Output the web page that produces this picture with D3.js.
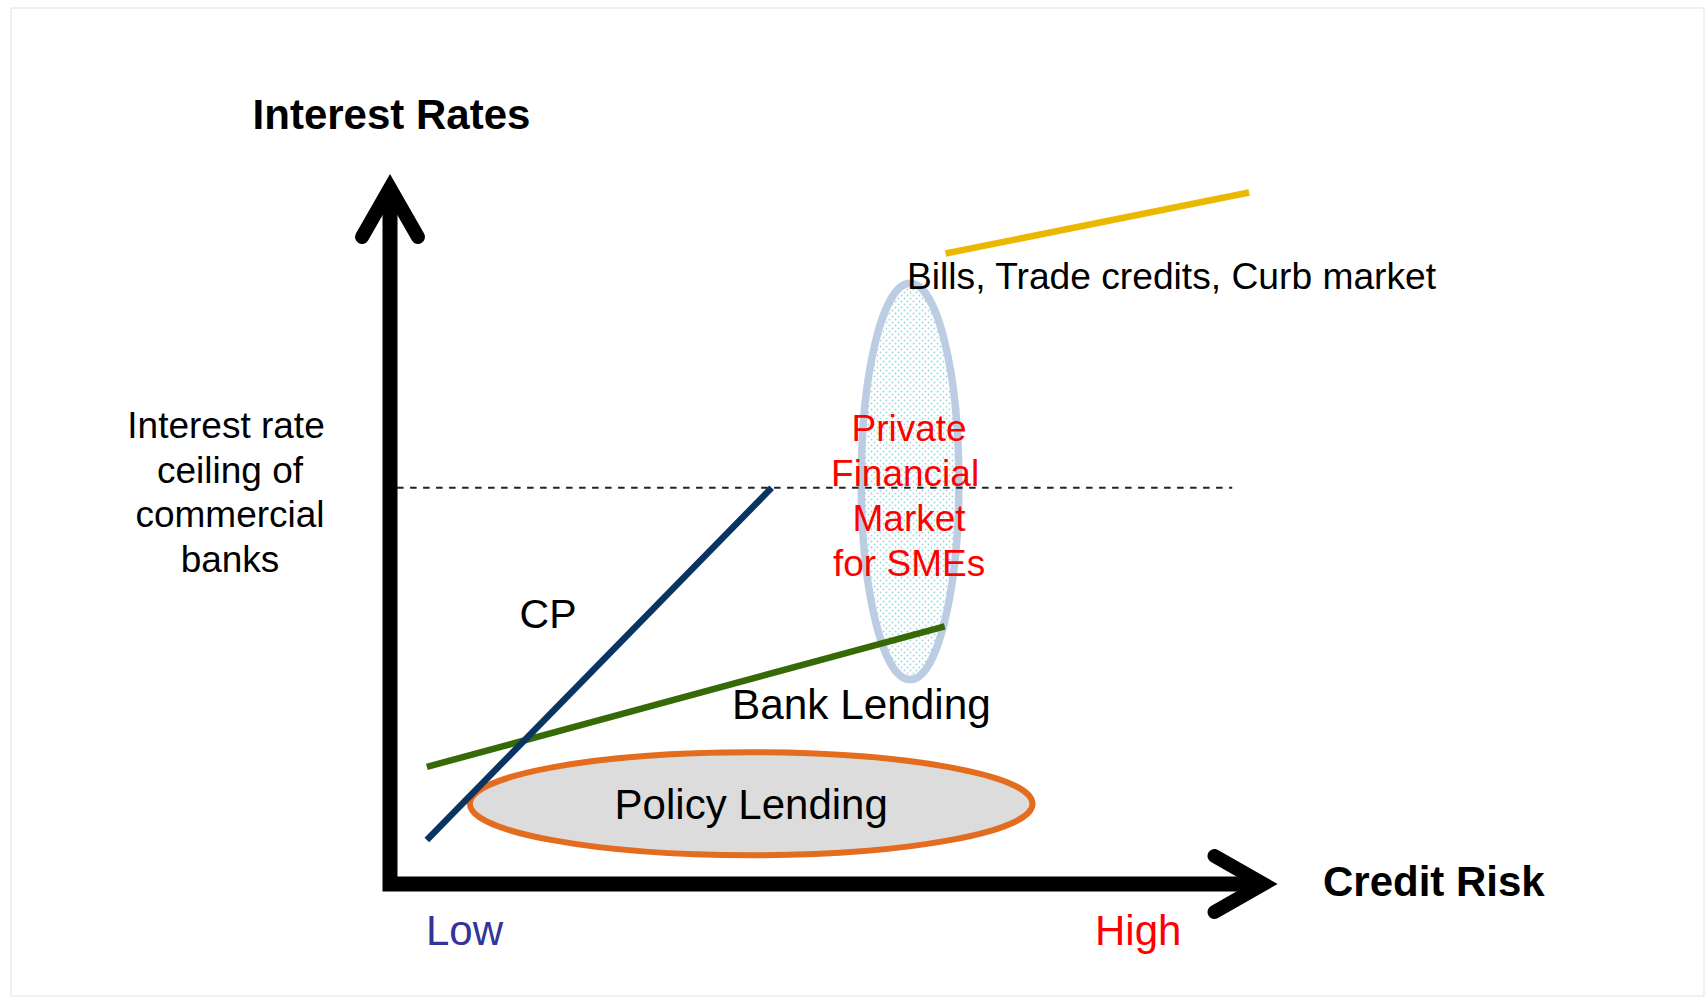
<!DOCTYPE html>
<html>
<head>
<meta charset="utf-8">
<script src="https://cdn.jsdelivr.net/npm/d3@7"></script>
<style>
  body { margin: 0; background: #fff; }
  svg { display: block; }
  text { font-family: "Liberation Sans", Arial, sans-serif; }
</style>
</head>
<body>
<svg></svg>
<script>
var screen = {width: 1706, height: 998};

// conceptual units: credit risk (x) and interest rate (y), 0..100
var axisTitles = ["Interest Rates", "Credit Risk"];
var riskLabels = ["Low", "High"];
var ceilingLabel = ["Interest rate", "ceiling of", "commercial", "banks"];
var privateLabel = ["Private", "Financial", "Market", "for SMEs"];

// line segments [risk, rate]
var cpLine = [[4.15, 6.2], [43.0, 55.8]];
var bankLine = [[4.15, 16.5], [62.5, 36.3]];
var billsLine = [[62.6, 88.8], [96.8, 97.4]];
var ceilingRate = 55.8;
var ceilingRange = [0.8, 94.9];

// ellipses: centre risk, centre rate, half width (risk), half height (rate)
var policyEllipse = {name: "Policy Lending", cx: 40.7, cy: 11.3, rx: 31.7, ry: 7.25};
var privateEllipse = {name: "Private Financial Market", cx: 58.6, cy: 56.7, rx: 5.5, ry: 27.9};

var lineNames = ["CP", "Bank Lending", "Bills, Trade credits, Curb market"];

var svg = d3.select("svg")
    .attr("width", screen.width)
    .attr("height", screen.height)

var xScale = d3.scaleLinear().domain([0, 100]).range([390, 1277.5])
var yScale = d3.scaleLinear().domain([0, 100]).range([884, 174])

var defs = svg.append("defs")
var pat = defs.append("pattern")
    .attr("id", "dots")
    .attr("patternUnits", "userSpaceOnUse")
    .attr("width", 6).attr("height", 6)
pat.append("rect").attr("width", 6).attr("height", 6).attr("fill", "#ffffff")
pat.append("circle").attr("cx", 1.5).attr("cy", 1.5).attr("r", 0.9).attr("fill", "#9fd6dc")
pat.append("circle").attr("cx", 4.5).attr("cy", 4.5).attr("r", 0.9).attr("fill", "#9fd6dc")

// faint frame
svg.append("rect")
    .attr("x", 11).attr("y", 8)
    .attr("width", 1693).attr("height", 988)
    .attr("fill", "none")
    .attr("stroke", "#ececec")
    .attr("stroke-width", 1.5)

// private financial market ellipse
svg.append("ellipse")
    .attr("cx", xScale(privateEllipse.cx))
    .attr("cy", yScale(privateEllipse.cy))
    .attr("rx", xScale(privateEllipse.rx) - xScale(0))
    .attr("ry", yScale(0) - yScale(privateEllipse.ry))
    .attr("fill", "url(#dots)")
    .attr("stroke", "#bccde3")
    .attr("stroke-width", 7.5)

// ceiling of commercial banks
svg.append("line")
    .attr("x1", xScale(ceilingRange[0]))
    .attr("x2", xScale(ceilingRange[1]))
    .attr("y1", yScale(ceilingRate))
    .attr("y2", yScale(ceilingRate))
    .attr("stroke", "#222")
    .attr("stroke-width", 2)
    .attr("stroke-dasharray", "6.5,6.5")

// policy lending ellipse
svg.append("ellipse")
    .attr("cx", xScale(policyEllipse.cx))
    .attr("cy", yScale(policyEllipse.cy))
    .attr("rx", xScale(policyEllipse.rx) - xScale(0))
    .attr("ry", yScale(0) - yScale(policyEllipse.ry))
    .attr("fill", "#dcdcdc")
    .attr("stroke", "#e46c1f")
    .attr("stroke-width", 6)

var lineGenerator = d3.line()
    .x(function(d) { return xScale(d[0]); })
    .y(function(d) { return yScale(d[1]); })

var segs = [
    {data: billsLine, color: "#ebb800"},
    {data: bankLine, color: "#366a06"},
    {data: cpLine, color: "#0a3462"}
]
svg.selectAll(".seg")
    .data(segs)
    .enter()
    .append("path")
    .attr("class", "seg")
    .attr("d", function(d) { return lineGenerator(d.data); })
    .attr("fill", "none")
    .attr("stroke", function(d) { return d.color; })
    .attr("stroke-width", 6.5)

// axes with arrow heads
var tipBack = 14, wingBack = 49, wingSide = 28;
var yTip = yScale(100), xTip = xScale(100);
var ox = xScale(0), oy = yScale(0);

svg.append("path")
    .attr("d", "M" + ox + "," + (yTip + tipBack) + "L" + ox + "," + oy + "L" + (xTip - tipBack) + "," + oy)
    .attr("fill", "none")
    .attr("stroke", "#000")
    .attr("stroke-width", 15)
    .attr("stroke-linejoin", "miter")

svg.append("path")
    .attr("d", "M" + (ox - wingSide) + "," + (yTip + tipBack + wingBack) +
               "L" + ox + "," + (yTip + tipBack) +
               "L" + (ox + wingSide) + "," + (yTip + tipBack + wingBack))
    .attr("fill", "none")
    .attr("stroke", "#000")
    .attr("stroke-width", 14)
    .attr("stroke-linecap", "round")
    .attr("stroke-linejoin", "miter")
    .attr("stroke-miterlimit", 10)

svg.append("path")
    .attr("d", "M" + (xTip - tipBack - wingBack) + "," + (oy - wingSide) +
               "L" + (xTip - tipBack) + "," + oy +
               "L" + (xTip - tipBack - wingBack) + "," + (oy + wingSide))
    .attr("fill", "none")
    .attr("stroke", "#000")
    .attr("stroke-width", 14)
    .attr("stroke-linecap", "round")
    .attr("stroke-linejoin", "miter")
    .attr("stroke-miterlimit", 10)

// axis titles
svg.append("text")
    .attr("x", 252.6).attr("y", 129)
    .style("font-size", "42px").style("font-weight", "bold")
    .text(axisTitles[0])

svg.append("text")
    .attr("x", 1323).attr("y", 896)
    .style("font-size", "42px").style("font-weight", "bold")
    .text(axisTitles[1])

svg.append("text")
    .attr("x", 426).attr("y", 945)
    .style("font-size", "42px").attr("fill", "#333399")
    .text(riskLabels[0])

svg.append("text")
    .attr("x", 1095).attr("y", 945)
    .style("font-size", "42px").attr("fill", "#ff0000")
    .text(riskLabels[1])

// ceiling label
svg.append("g")
    .selectAll("text")
    .data(ceilingLabel)
    .enter()
    .append("text")
    .attr("x", function(d, i) { return i == 0 ? 226 : 230; })
    .attr("y", function(d, i) { return 438 + i * 44.5; })
    .attr("text-anchor", "middle")
    .style("font-size", "37px")
    .text(function(d) { return d; })

// private market label
svg.append("g")
    .selectAll("text")
    .data(privateLabel)
    .enter()
    .append("text")
    .attr("x", function(d, i) { return xScale(privateEllipse.cx) - (i == 1 ? 5 : 1); })
    .attr("y", function(d, i) { return 441 + i * 45; })
    .attr("text-anchor", "middle")
    .attr("fill", "#ff0000")
    .style("font-size", "37px")
    .text(function(d) { return d; })

svg.append("text")
    .attr("x", 519.6).attr("y", 628)
    .style("font-size", "41px")
    .text(lineNames[0])

svg.append("text")
    .attr("x", 732).attr("y", 719)
    .style("font-size", "42.3px")
    .text(lineNames[1])

svg.append("text")
    .attr("x", 907).attr("y", 289)
    .style("font-size", "37.2px")
    .text(lineNames[2])

svg.append("text")
    .attr("x", xScale(policyEllipse.cx)).attr("y", 819)
    .attr("text-anchor", "middle")
    .style("font-size", "42px")
    .text(policyEllipse.name)
</script>
</body>
</html>
